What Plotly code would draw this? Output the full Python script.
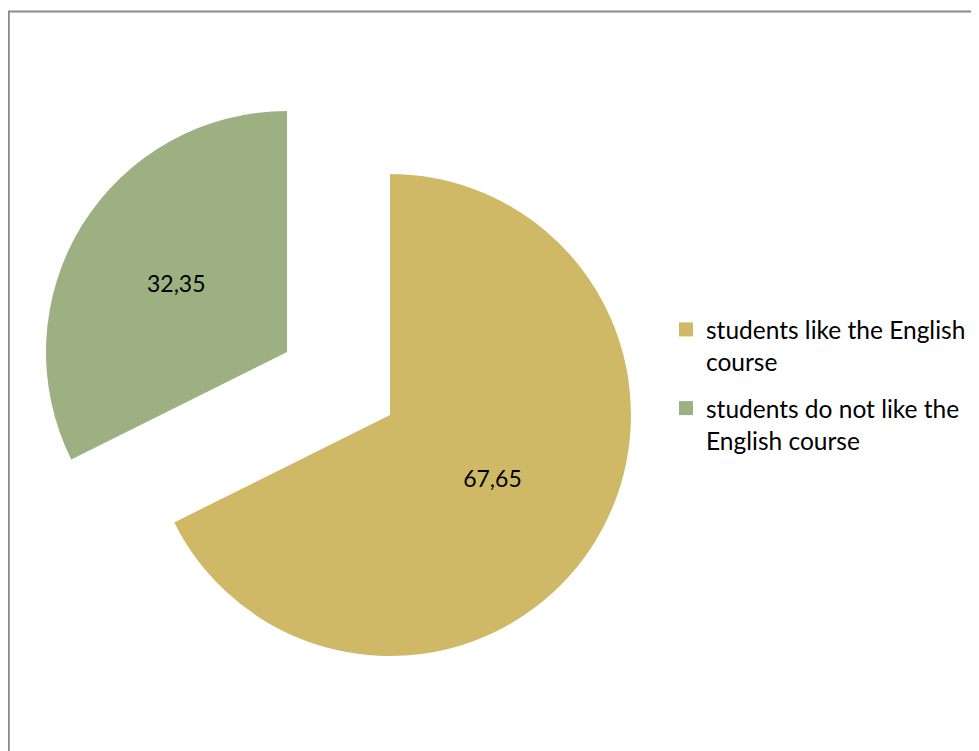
import plotly.graph_objects as go

categories = ['students like the English course', 'students do not like the English course']
legend_names = ['students like the English<br>course', 'students do not like the<br>English course']
values = [67.65, 32.35]
colors = ['#CFB967', '#9CB082']

value_text = [f'{v:.2f}'.replace('.', ',') for v in values]
font = 'Lato, Open Sans, sans-serif'
clear = 'rgba(0,0,0,0)'
W, H = 979, 751

# main slice (yellow) stays in place, the green one is drawn as a separate exploded copy
trace_main = go.Pie(labels=categories, values=values, sort=False, direction='clockwise', rotation=0,
                    marker=dict(colors=[colors[0], clear]),
                    text=[value_text[0], ''], textinfo='text', textposition='inside',
                    insidetextorientation='horizontal',
                    textfont=dict(family=font, size=23, color='black'),
                    domain=dict(x=[141 / W, 623 / W], y=[1 - 648 / H, 1 - 166 / H]),
                    showlegend=False, hoverinfo='label+value')

trace_pulled = go.Pie(labels=categories, values=values, sort=False, direction='clockwise', rotation=0,
                      marker=dict(colors=[clear, colors[1]]),
                      text=['', value_text[1]], textinfo='text', textposition='inside',
                      insidetextorientation='horizontal',
                      textfont=dict(family=font, size=23, color='black'),
                      domain=dict(x=[38 / W, 520 / W], y=[1 - 585 / H, 1 - 103 / H]),
                      showlegend=False, hoverinfo='label+value')

# legend entries
legend_traces = [go.Scatter(x=[None], y=[None], mode='markers', name=n, legendgroup=f'g{i}',
                            marker=dict(symbol='square', size=14, color=c))
                 for i, (n, c) in enumerate(zip(legend_names, colors))]

fig = go.Figure(data=[trace_main, trace_pulled] + legend_traces)

fig.update_layout(
    width=W, height=H,
    margin=dict(l=0, r=0, t=0, b=0),
    paper_bgcolor='white', plot_bgcolor='rgba(0,0,0,0)',
    font=dict(family=font, size=24, color='black'),
    xaxis=dict(visible=False), yaxis=dict(visible=False),
    legend=dict(x=658 / W, y=1 - 299 / H, xanchor='left', yanchor='top', valign='top',
                font=dict(family=font, size=24.5), tracegroupgap=12,
                bgcolor='rgba(0,0,0,0)'),
    shapes=[dict(type='rect', xref='paper', yref='paper',
                 x0=0.8 / W, x1=1.05, y0=-0.05, y1=1 - 3.5 / H,
                 line=dict(color='#8A8A8A', width=2))],
)

fig.write_html('out.html')
